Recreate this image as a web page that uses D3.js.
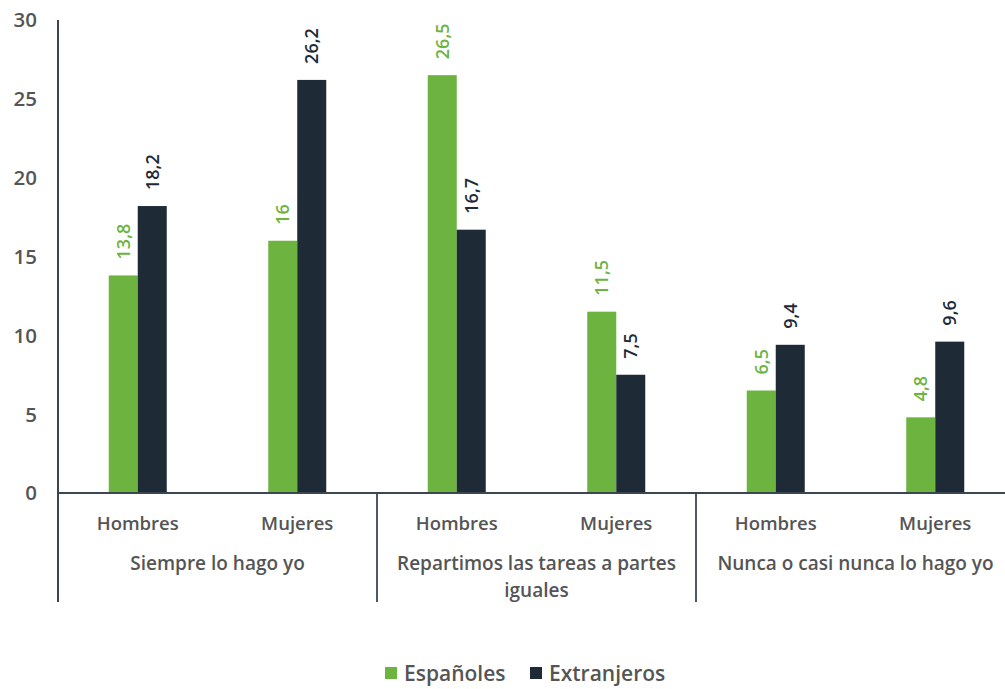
<!DOCTYPE html>
<html><head><meta charset="utf-8">
<script src="https://cdn.jsdelivr.net/npm/d3@7"></script>
<style>body{margin:0;background:#fff;} text{font-family:"Open Sans",sans-serif;}</style>
</head><body><svg id="c" width="1005" height="689"></svg>
<script>
const groups = ["Siempre lo hago yo", "Repartimos las tareas a partes|iguales", "Nunca o casi nunca lo hago yo"];
const subcats = ["Hombres", "Mujeres"];
const seriesNames = ["Españoles", "Extranjeros"];
const espanoles = [13.8, 16, 26.5, 11.5, 6.5, 4.8];
const extranjeros = [18.2, 26.2, 16.7, 7.5, 9.4, 9.6];
const yTicks = [0, 5, 10, 15, 20, 25, 30];
const colors = ["#6db33f", "#1e2b36"];

(function () {
const svg = d3.select("#c");
const mLeft = 58, mRight = 1015, mTop = 20, base = 493;
const cats = [];
groups.forEach((g, gi) => subcats.forEach((s, si) => cats.push(gi + "-" + si)));
const x = d3.scaleBand().domain(cats).range([mLeft, mRight]);
const y = d3.scaleLinear().domain([0, 30]).range([base, mTop]);
const barW = 29;
const fmt = v => String(v).replace(".", ",");
const axisColor = "#3a4651";

svg.selectAll(".yt").data(yTicks).enter().append("text")
  .attr("x", 37).attr("y", d => y(d)).attr("dy", "0.36em")
  .attr("text-anchor", "end").attr("font-size", 20.5).attr("font-weight", 600)
  .attr("fill", "#555").text(d => d);

const series = [espanoles, extranjeros];
series.forEach((vals, si) => {
  svg.selectAll(".b" + si).data(vals).enter().append("rect")
    .attr("x", (d, i) => x(cats[i]) + x.bandwidth() / 2 + (si - 1) * barW)
    .attr("width", barW)
    .attr("y", d => y(d)).attr("height", d => base - y(d))
    .attr("fill", colors[si]);
  svg.selectAll(".l" + si).data(vals).enter().append("text")
    .attr("transform", (d, i) => {
      const cx = x(cats[i]) + x.bandwidth() / 2 + (si - 0.5) * barW;
      return `translate(${cx},${y(d) - 16}) rotate(-90)`;
    })
    .attr("dy", "0.36em").attr("text-anchor", "start")
    .attr("font-size", 18).attr("font-weight", 600)
    .attr("fill", colors[si]).text(d => fmt(d));
});

svg.append("line").attr("x1", mLeft).attr("x2", mLeft).attr("y1", mTop).attr("y2", 602)
  .attr("stroke", axisColor).attr("stroke-width", 2);
svg.append("line").attr("x1", mLeft).attr("x2", 1005).attr("y1", base).attr("y2", base)
  .attr("stroke", axisColor).attr("stroke-width", 2);
[2, 4].forEach(k => {
  const xx = x(cats[k]);
  svg.append("line").attr("x1", xx).attr("x2", xx).attr("y1", base).attr("y2", 602)
    .attr("stroke", axisColor).attr("stroke-width", 1.8);
});

svg.selectAll(".cl").data(cats).enter().append("text")
  .attr("x", d => x(d) + x.bandwidth() / 2).attr("y", 530)
  .attr("text-anchor", "middle").attr("font-size", 18.5).attr("font-weight", 600)
  .attr("fill", "#555").text(d => subcats[+d.split("-")[1]]);

groups.forEach((g, gi) => {
  const cx = x(cats[gi * 2]) + x.bandwidth();
  const t = svg.append("text").attr("text-anchor", "middle").attr("font-size", 19)
    .attr("font-weight", 600).attr("fill", "#555");
  g.split("|").forEach((ln, li) => {
    t.append("tspan").attr("x", cx).attr("y", 570 + li * 27).text(ln);
  });
});

const legX = [385, 530];
seriesNames.forEach((n, i) => {
  svg.append("rect").attr("x", legX[i]).attr("y", 667).attr("width", 12).attr("height", 12)
    .attr("fill", colors[i]);
  svg.append("text").attr("x", legX[i] + 19).attr("y", 681).attr("font-size", 21)
    .attr("font-weight", 600).attr("fill", "#555").text(n);
});
})();
</script></body></html>
